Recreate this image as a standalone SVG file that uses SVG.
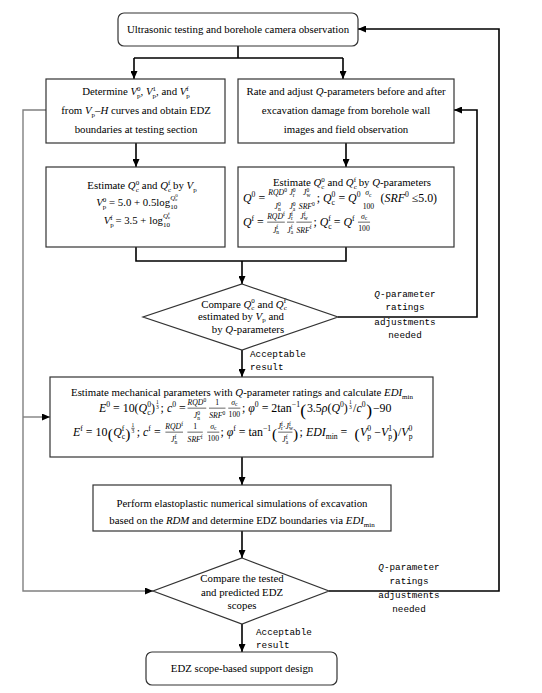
<svg xmlns="http://www.w3.org/2000/svg" width="542" height="693" viewBox="0 0 542 693">
<style>
text{font-family:"Liberation Serif","Times New Roman",serif;font-size:10.8px;fill:#000}
.i{font-style:italic}
.s{font-size:7px}
.xs{font-size:5px}
.f{font-size:7px}
.mono{font-family:"Liberation Mono","Courier New",monospace;font-size:9.3px}
.box{fill:#fff;stroke:#333;stroke-width:1.2}
.ln{fill:none;stroke:#000;stroke-width:1.6}
.gl{fill:none;stroke:#808080;stroke-width:1.4}
.bar{stroke:#000;stroke-width:0.55}
.big{font-size:16px}
.bg{font-size:14px}
</style>
<defs>
<marker id="a" viewBox="0 0 8 7" refX="8" refY="3.5" markerWidth="8" markerHeight="7" orient="auto" markerUnits="userSpaceOnUse">
<path d="M0,0 L8,3.5 L0,7 z" fill="#000"/>
</marker>
</defs>
<rect width="542" height="693" fill="#fff"/>

<g id="connectors">
<path class="ln" d="M238,46 V58 M134,58 H343"/>
<path class="ln" d="M134,58 V79" marker-end="url(#a)"/>
<path class="ln" d="M343,58 V79" marker-end="url(#a)"/>
<path class="ln" d="M136,143 V167" marker-end="url(#a)"/>
<path class="ln" d="M346,143 V167" marker-end="url(#a)"/>
<path class="ln" d="M136,247 V261 H346 V247"/>
<path class="ln" d="M242,261 V284" marker-end="url(#a)"/>
<path class="ln" d="M338,317 H477 V110 H454" marker-end="url(#a)"/>
<path class="ln" d="M242,350 V377" marker-end="url(#a)"/>
<path class="ln" d="M242,457 V485" marker-end="url(#a)"/>
<path class="ln" d="M242,531 V558" marker-end="url(#a)"/>
<path class="ln" d="M329,591 H499 V29 H358" marker-end="url(#a)"/>
<path class="ln" d="M242,624 V652" marker-end="url(#a)"/>
<path class="gl" d="M46,110 H23 V591 H153" marker-end="url(#a)"/>
<path class="gl" d="M23,417 H50" marker-end="url(#a)"/>
<text class="mono" text-anchor="middle"><tspan x="405" y="297"><tspan class="i">Q</tspan>-parameter</tspan><tspan x="405" y="310">ratings</tspan><tspan x="405" y="325">adjustments</tspan><tspan x="405" y="338">needed</tspan></text>
<text class="mono"><tspan x="250" y="357">Acceptable</tspan><tspan x="250" y="370">result</tspan></text>
<text class="mono" text-anchor="middle"><tspan x="409" y="570"><tspan class="i">Q</tspan>-parameter</tspan><tspan x="409" y="584">ratings</tspan><tspan x="409" y="598">adjustments</tspan><tspan x="409" y="612">needed</tspan></text>
<text class="mono"><tspan x="256" y="635">Acceptable</tspan><tspan x="256" y="648">result</tspan></text>
</g>

<g id="n1">
<rect class="box" x="118" y="13" width="240" height="33" rx="6"/>
<text x="238" y="33" text-anchor="middle">Ultrasonic testing and borehole camera observation</text>
</g>

<g id="n2">
<rect class="box" x="46" y="79" width="179" height="64"/>
<text x="136" y="95" text-anchor="middle">Determine  <tspan class="i">V</tspan><tspan class="s" dy="2.5">p</tspan><tspan class="s" dx="-3.5" dy="-7">0</tspan><tspan dy="4.5">, </tspan><tspan class="i">V</tspan><tspan class="s" dy="2.5">p</tspan><tspan class="s" dx="-3.5" dy="-7">1</tspan><tspan dy="4.5">, and </tspan><tspan class="i">V</tspan><tspan class="s" dy="2.5">p</tspan><tspan class="s" dx="-3.5" dy="-7">f</tspan></text>
<text x="136" y="114" text-anchor="middle">from <tspan class="i">V</tspan><tspan class="s" dy="2.5">p</tspan><tspan dy="-2.5">–</tspan><tspan class="i">H</tspan> curves and obtain EDZ</text>
<text x="136" y="133" text-anchor="middle">boundaries at testing section</text>
</g>

<g id="n3">
<rect class="box" x="238" y="79" width="216" height="64"/>
<text x="346" y="95" text-anchor="middle">Rate and adjust <tspan class="i">Q</tspan>-parameters before and after</text>
<text x="346" y="114" text-anchor="middle">excavation damage from borehole wall</text>
<text x="346" y="133" text-anchor="middle">images and field observation</text>
</g>

<g id="n4">
<rect class="box" x="46" y="167" width="179" height="80"/>
<text x="142" y="189" text-anchor="middle">Estimate <tspan class="i">Q</tspan><tspan class="s" dy="2.5">c</tspan><tspan class="s" dx="-3.1" dy="-7">0</tspan><tspan dy="4.5"> and </tspan><tspan class="i">Q</tspan><tspan class="s" dy="2.5">c</tspan><tspan class="s" dx="-3.1" dy="-7">f</tspan><tspan dy="4.5"> by </tspan><tspan class="i">V</tspan><tspan class="s" dy="2.5">p</tspan></text>
<text x="137" y="206" text-anchor="middle"><tspan class="i">V</tspan><tspan class="s" dy="2.5">p</tspan><tspan class="s" dx="-3.5" dy="-7">0</tspan><tspan dy="4.5"> = 5.0 + 0.5log</tspan><tspan class="s" dy="2.5">10</tspan><tspan class="s i" dx="-7" dy="-9">Q</tspan><tspan class="xs" dy="1.5">c</tspan><tspan class="xs" dx="-2.2" dy="-4">0</tspan></text>
<text x="137" y="224" text-anchor="middle"><tspan class="i">V</tspan><tspan class="s" dy="2.5">p</tspan><tspan class="s" dx="-3.5" dy="-7">f</tspan><tspan dy="4.5"> = 3.5 + log</tspan><tspan class="s" dy="2.5">10</tspan><tspan class="s i" dx="-7" dy="-9">Q</tspan><tspan class="xs" dy="1.5">c</tspan><tspan class="xs" dx="-2.2" dy="-4">f</tspan></text>
</g>

<g id="n5">
<rect class="box" x="238" y="167" width="216" height="80"/>
<text x="352" y="186" text-anchor="middle">Estimate <tspan class="i">Q</tspan><tspan class="s" dy="2.5">c</tspan><tspan class="s" dx="-3.1" dy="-7">0</tspan><tspan dy="4.5"> and </tspan><tspan class="i">Q</tspan><tspan class="s" dy="2.5">c</tspan><tspan class="s" dx="-3.1" dy="-7">f</tspan><tspan dy="4.5"> by </tspan><tspan class="i">Q</tspan>-parameters</text>
<g transform="translate(243,-22.4) scale(1.1)">
<text x="0" y="204"><tspan class="i">Q</tspan><tspan class="s" dy="-4.5">0</tspan><tspan dy="4.5"> =</tspan></text>
<text class="f" x="31.5" y="198" text-anchor="middle"><tspan class="i">RQD</tspan><tspan class="xs" dy="-3">0</tspan></text>
<text class="f" x="31.5" y="210.5" text-anchor="middle"><tspan class="i">J</tspan><tspan class="xs" dy="1.5">n</tspan><tspan class="xs" dx="-2.5" dy="-4.5">0</tspan></text>
<text class="f" x="45" y="198" text-anchor="middle"><tspan class="i">J</tspan><tspan class="xs" dy="1.5">r</tspan><tspan class="xs" dx="-1.7" dy="-4.5">0</tspan></text>
<text class="f" x="45" y="210.5" text-anchor="middle"><tspan class="i">J</tspan><tspan class="xs" dy="1.5">a</tspan><tspan class="xs" dx="-2.2" dy="-4.5">0</tspan></text>
<text class="f" x="58" y="198" text-anchor="middle"><tspan class="i">J</tspan><tspan class="xs" dy="1.5">w</tspan><tspan class="xs" dx="-3.6" dy="-4.5">0</tspan></text>
<text class="f" x="58" y="210.5" text-anchor="middle"><tspan class="i">SRF</tspan><tspan class="xs" dy="-3">0</tspan></text>
<text x="67" y="204">; <tspan class="i">Q</tspan><tspan class="s" dy="2.5">c</tspan><tspan class="s" dx="-3.1" dy="-7">0</tspan><tspan dy="4.5"> = </tspan><tspan class="i">Q</tspan><tspan class="s" dy="-4.5">0</tspan></text>
<text class="f" x="114" y="198" text-anchor="middle"><tspan class="i">σ</tspan><tspan class="xs" dy="1.5">c</tspan></text>
<text class="f" x="114" y="210" text-anchor="middle">100</text>
<text x="125" y="204">(<tspan class="i">SRF</tspan><tspan class="s" dy="-4.5">0</tspan><tspan dy="4.5"> ≤5.0)</tspan></text>
</g>
<g transform="translate(243,-20.4) scale(1.1)">
<text x="0" y="224"><tspan class="i">Q</tspan><tspan class="s" dy="-4.5">f</tspan><tspan dy="4.5"> =</tspan></text>
<text class="f" x="30" y="217.5" text-anchor="middle"><tspan class="i">RQD</tspan><tspan class="xs" dy="-3">f</tspan></text>
<line class="bar" x1="22" y1="220.5" x2="38" y2="220.5"/>
<text class="f" x="30" y="230" text-anchor="middle"><tspan class="i">J</tspan><tspan class="xs" dy="1.5">n</tspan><tspan class="xs" dx="-2.5" dy="-4.5">f</tspan></text>
<text class="f" x="43" y="217.5" text-anchor="middle"><tspan class="i">J</tspan><tspan class="xs" dy="1.5">r</tspan><tspan class="xs" dx="-1.7" dy="-4.5">f</tspan></text>
<line class="bar" x1="40" y1="220.5" x2="46.5" y2="220.5"/>
<text class="f" x="43" y="230" text-anchor="middle"><tspan class="i">J</tspan><tspan class="xs" dy="1.5">a</tspan><tspan class="xs" dx="-2.2" dy="-4.5">f</tspan></text>
<text class="f" x="55.5" y="217.5" text-anchor="middle"><tspan class="i">J</tspan><tspan class="xs" dy="1.5">w</tspan><tspan class="xs" dx="-3.6" dy="-4.5">f</tspan></text>
<line class="bar" x1="48.5" y1="220.5" x2="62.5" y2="220.5"/>
<text class="f" x="55.5" y="230" text-anchor="middle"><tspan class="i">SRF</tspan><tspan class="xs" dy="-3">f</tspan></text>
<text x="64" y="224">; <tspan class="i">Q</tspan><tspan class="s" dy="2.5">c</tspan><tspan class="s" dx="-3.1" dy="-7">f</tspan><tspan dy="4.5"> = </tspan><tspan class="i">Q</tspan><tspan class="s" dy="-4.5">f</tspan></text>
<text class="f" x="110" y="217.5" text-anchor="middle"><tspan class="i">σ</tspan><tspan class="xs" dy="1.5">c</tspan></text>
<line class="bar" x1="104.5" y1="220.5" x2="115.5" y2="220.5"/>
<text class="f" x="110" y="229" text-anchor="middle">100</text>
</g>
</g>

<g id="n6">
<polygon class="box" points="242,284 338,317 242,350 143,317"/>
<text x="244" y="307.5" text-anchor="middle">Compare  <tspan class="i">Q</tspan><tspan class="s" dy="2">c</tspan><tspan class="s" dx="-3.1" dy="-6.5">0</tspan><tspan dy="4.5"> and </tspan><tspan class="i">Q</tspan><tspan class="s" dy="2">c</tspan><tspan class="s" dx="-3.1" dy="-6.5">f</tspan></text>
<text x="241" y="320" text-anchor="middle">estimated by <tspan class="i">V</tspan><tspan class="s" dy="1.8">p</tspan><tspan dy="-1.8"> and</tspan></text>
<text x="248" y="333" text-anchor="middle">by <tspan class="i">Q</tspan>-parameters</text>
</g>

<g id="n7">
<rect class="box" x="50" y="377" width="383" height="80"/>
<text x="242" y="396" text-anchor="middle">Estimate mechanical parameters with <tspan class="i">Q</tspan>-parameter ratings and calculate <tspan class="i">EDI</tspan><tspan class="s" dy="2.5">min</tspan></text>
<g transform="translate(99,-42.3) scale(1.1)">
<text x="0" y="413"><tspan class="i">E</tspan><tspan class="s" dy="-4.5">0</tspan><tspan dy="4.5"> = 10(</tspan><tspan class="i">Q</tspan><tspan class="s" dy="2.5">c</tspan><tspan class="s" dx="-3.1" dy="-7">0</tspan><tspan dy="4.5">)</tspan></text>
<text class="xs" x="53" y="405.5" text-anchor="middle">1</text>
<text class="xs" x="53" y="410.5" text-anchor="middle">3</text>
<text x="56" y="413">; <tspan class="i">c</tspan><tspan class="s" dy="-4.5">0</tspan><tspan dy="4.5"> =</tspan></text>
<text class="f" x="89" y="406.5" text-anchor="middle"><tspan class="i">RQD</tspan><tspan class="xs" dy="-3">0</tspan></text>
<line class="bar" x1="80.5" y1="409.5" x2="97.5" y2="409.5"/>
<text class="f" x="89" y="418.5" text-anchor="middle"><tspan class="i">J</tspan><tspan class="xs" dy="1.5">n</tspan><tspan class="xs" dx="-2.5" dy="-4.5">0</tspan></text>
<text class="f" x="107.5" y="406.5" text-anchor="middle">1</text>
<line class="bar" x1="100" y1="409.5" x2="115" y2="409.5"/>
<text class="f" x="107.5" y="418.5" text-anchor="middle"><tspan class="i">SRF</tspan><tspan class="xs" dy="-3">0</tspan></text>
<text class="f" x="123" y="406.5" text-anchor="middle"><tspan class="i">σ</tspan><tspan class="xs" dy="1.5">c</tspan></text>
<line class="bar" x1="117.5" y1="409.5" x2="128.5" y2="409.5"/>
<text class="f" x="123" y="418" text-anchor="middle">100</text>
<text x="130" y="413">; <tspan class="i">φ</tspan><tspan class="s" dy="-4.5">0</tspan><tspan dy="4.5"> = 2tan</tspan><tspan class="s" dy="-4.5">−1</tspan></text>
<text class="big" x="183" y="416.5">(</text>
<text x="189" y="413">3.5<tspan class="i">ρ</tspan>(<tspan class="i">Q</tspan><tspan class="s" dy="-4.5">0</tspan><tspan dy="4.5">)</tspan></text>
<text class="xs" x="228.5" y="405.5" text-anchor="middle">1</text>
<text class="xs" x="228.5" y="410.5" text-anchor="middle">3</text>
<text x="231" y="413">/<tspan class="i">c</tspan><tspan class="s" dy="-4.5">0</tspan></text>
<text class="big" x="243" y="416.5">)</text>
<text x="249" y="413"> −90</text>
</g>
<g transform="translate(73,-41.4) scale(1.1)">
<text x="0" y="434"><tspan class="i">E</tspan><tspan class="s" dy="-4.5">f</tspan><tspan dy="4.5"> = 10</tspan></text>
<text class="bg" x="31.5" y="436.5">(</text>
<text x="36.5" y="434"><tspan class="i">Q</tspan><tspan class="s" dy="2.5">c</tspan><tspan class="s" dx="-3.1" dy="-7">f</tspan></text>
<text class="bg" x="47.5" y="436.5">)</text>
<text class="xs" x="54.5" y="425.5" text-anchor="middle">1</text>
<line class="bar" x1="53" y1="427" x2="56" y2="427"/>
<text class="xs" x="54.5" y="431.5" text-anchor="middle">3</text>
<text x="58" y="434">; <tspan class="i">c</tspan><tspan class="s" dy="-4.5">f</tspan><tspan dy="4.5"> =</tspan></text>
<text class="f" x="92" y="427.5" text-anchor="middle"><tspan class="i">RQD</tspan><tspan class="xs" dy="-3">f</tspan></text>
<line class="bar" x1="84" y1="430.5" x2="100" y2="430.5"/>
<text class="f" x="92" y="439.5" text-anchor="middle"><tspan class="i">J</tspan><tspan class="xs" dy="1.5">n</tspan><tspan class="xs" dx="-2.5" dy="-4.5">f</tspan></text>
<text class="f" x="111" y="427.5" text-anchor="middle">1</text>
<line class="bar" x1="104" y1="430.5" x2="118" y2="430.5"/>
<text class="f" x="111" y="439.5" text-anchor="middle"><tspan class="i">SRF</tspan><tspan class="xs" dy="-3">f</tspan></text>
<text class="f" x="127.5" y="427.5" text-anchor="middle"><tspan class="i">σ</tspan><tspan class="xs" dy="1.5">c</tspan></text>
<line class="bar" x1="122" y1="430.5" x2="133" y2="430.5"/>
<text class="f" x="127.5" y="439" text-anchor="middle">100</text>
<text x="134" y="434">; <tspan class="i">φ</tspan><tspan class="s" dy="-4.5">f</tspan><tspan dy="4.5"> = tan</tspan><tspan class="s" dy="-4.5">−1</tspan></text>
<text class="bg" x="181" y="436.5">(</text>
<text class="f" x="193" y="427.5" text-anchor="middle"><tspan class="i">J</tspan><tspan class="xs" dy="1.5">r</tspan><tspan class="xs" dx="-1.7" dy="-4.5">f</tspan><tspan dy="3">·</tspan><tspan class="i">J</tspan><tspan class="xs" dy="1.5">w</tspan><tspan class="xs" dx="-3.6" dy="-4.5">f</tspan></text>
<line class="bar" x1="186.5" y1="430.5" x2="199.5" y2="430.5"/>
<text class="f" x="193" y="439.5" text-anchor="middle"><tspan class="i">J</tspan><tspan class="xs" dy="1.5">a</tspan><tspan class="xs" dx="-2.2" dy="-4.5">f</tspan></text>
<text class="bg" x="200" y="436.5">)</text>
<text x="206" y="434">; <tspan class="i">EDI</tspan><tspan class="s" dy="2.5">min</tspan><tspan dy="-2.5"> =</tspan></text>
<text class="bg" x="256" y="436.5">(</text>
<text x="261" y="434"><tspan class="i">V</tspan><tspan class="s" dy="2.5">p</tspan><tspan class="s" dx="-3.5" dy="-7">0</tspan><tspan dy="4.5"> −</tspan><tspan class="i">V</tspan><tspan class="s" dy="2.5">p</tspan><tspan class="s" dx="-3.5" dy="-7">1</tspan></text>
<text class="bg" x="290.5" y="436.5">)</text>
<text x="295.5" y="434">/<tspan class="i">V</tspan><tspan class="s" dy="2.5">p</tspan><tspan class="s" dx="-3.5" dy="-7">0</tspan></text>
</g>
</g>

<g id="n8">
<rect class="box" x="93" y="485" width="298" height="46"/>
<text x="242" y="507" text-anchor="middle">Perform elastoplastic numerical simulations of excavation</text>
<text x="242" y="524" text-anchor="middle">based on the <tspan class="i">RDM</tspan> and  determine  EDZ boundaries via <tspan class="i">EDI</tspan><tspan class="s" dy="2.5">min</tspan></text>
</g>

<g id="n9">
<polygon class="box" points="242,558 329,591 242,624 153,591"/>
<text x="242" y="582" text-anchor="middle">Compare the tested</text>
<text x="242" y="596" text-anchor="middle">and predicted EDZ</text>
<text x="242" y="609" text-anchor="middle">scopes</text>
</g>

<g id="n10">
<rect class="box" x="146" y="652" width="191" height="33" rx="6"/>
<text x="242" y="672" text-anchor="middle">EDZ scope-based support design</text>
</g>
</svg>
